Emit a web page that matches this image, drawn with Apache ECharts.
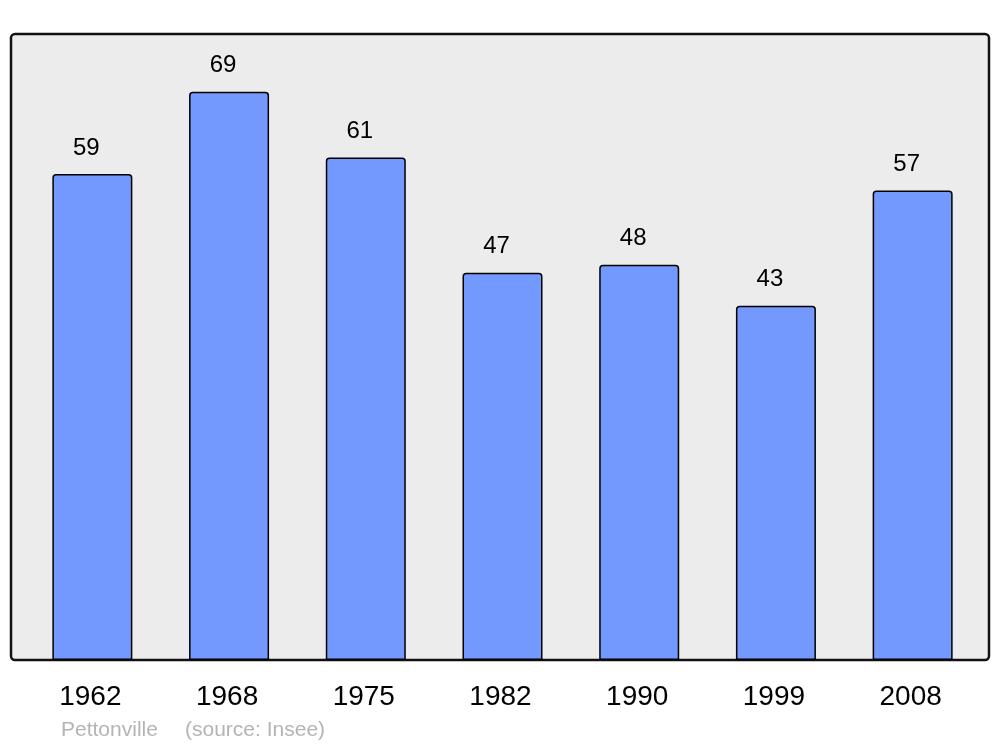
<!DOCTYPE html>
<html>
<head>
<meta charset="utf-8">
<script src="https://cdn.jsdelivr.net/npm/echarts@6/dist/echarts.min.js"></script>
<style>
html,body{margin:0;padding:0;background:#fff;}
#chart{width:1000px;height:747px;}
</style>
</head>
<body>
<div id="chart"></div>
<script>
var years = ['1962', '1968', '1975', '1982', '1990', '1999', '2008'];
var population = [59, 69, 61, 47, 48, 43, 57];
var footerName = 'Pettonville';
var footerSource = '(source: Insee)';

var chart = echarts.init(document.getElementById('chart'));
chart.setOption({
  animation: false,
  backgroundColor: '#ffffff',
  grid: { left: 24, right: 19, top: 34, bottom: 87, containLabel: false },
  xAxis: {
    type: 'category',
    data: years,
    axisLine: { show: false },
    axisTick: { show: false },
    axisLabel: { margin: 23, fontSize: 28, color: '#000', fontFamily: 'Liberation Sans', padding: [0, 4, 0, 0] }
  },
  yAxis: {
    type: 'value',
    min: 0, max: 76,
    show: false,
    splitLine: { show: false }
  },
  graphic: [
    { type: 'rect', z: -10, shape: { x: 11, y: 34, width: 978, height: 626, r: 4 },
      style: { fill: '#ececec', stroke: '#111', lineWidth: 2.5 } },
    { type: 'text', left: 61, top: 720,
      style: { text: footerName, fontSize: 21, fill: '#b4b4b4', fontFamily: 'Liberation Sans' } },
    { type: 'text', left: 185, top: 720,
      style: { text: footerSource, fontSize: 21, fill: '#b4b4b4', fontFamily: 'Liberation Sans' } }
  ],
  series: [{
    type: 'bar',
    data: population,
    barWidth: 80,
    itemStyle: { color: '#7399ff', borderColor: '#000', borderWidth: 1.5, borderRadius: [3, 3, 0, 0] },
    label: {
      show: true, position: 'top', distance: 14, offset: [-6, 0],
      fontSize: 24, color: '#000', fontFamily: 'Liberation Sans'
    }
  }]
});
</script>
</body>
</html>
